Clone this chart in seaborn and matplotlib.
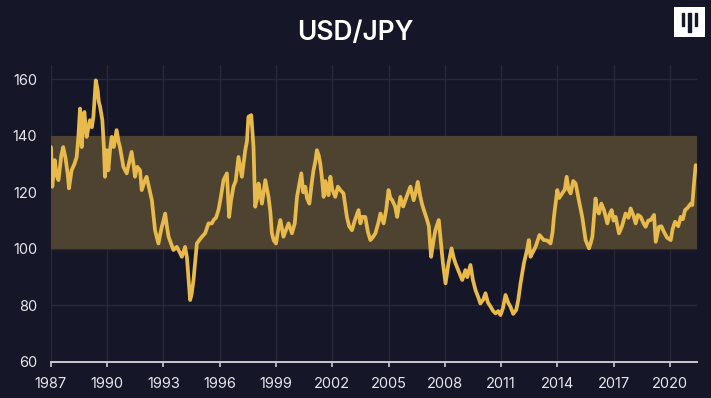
import pandas as pd
import matplotlib.pyplot as plt
import matplotlib.patches as mpatches
import seaborn as sns

# USD/JPY rate (decimal year, yen per dollar)
years = [
    1987.00, 1987.07, 1987.20, 1987.30, 1987.40, 1987.55, 1987.65, 1987.78, 1987.90, 1987.96,
    1988.10, 1988.25, 1988.37, 1988.46, 1988.55, 1988.64, 1988.72, 1988.78, 1988.90, 1989.00,
    1989.08, 1989.18, 1989.26, 1989.39, 1989.49, 1989.55, 1989.62, 1989.74, 1989.82, 1989.88,
    1989.97, 1990.06, 1990.15, 1990.24, 1990.35, 1990.50, 1990.60, 1990.68, 1990.86, 1991.04,
    1991.15, 1991.30, 1991.40, 1991.48, 1991.60, 1991.75, 1991.84, 1992.00, 1992.10, 1992.25,
    1992.38, 1992.48, 1992.55, 1992.73, 1992.82, 1992.91, 1993.00, 1993.09, 1993.18, 1993.27,
    1993.40, 1993.53, 1993.71, 1993.85, 1993.98, 1994.15, 1994.25, 1994.33, 1994.42, 1994.50,
    1994.60, 1994.70, 1994.78, 1994.90, 1995.05, 1995.22, 1995.40, 1995.58, 1995.67, 1995.80,
    1995.93, 1996.05, 1996.20, 1996.38, 1996.50, 1996.60, 1996.73, 1996.85, 1997.00, 1997.18,
    1997.36, 1997.45, 1997.53, 1997.68, 1997.80, 1997.89, 1998.00, 1998.07, 1998.15, 1998.25,
    1998.43, 1998.60, 1998.70, 1998.78, 1998.88, 1999.00, 1999.10, 1999.23, 1999.40, 1999.55,
    1999.67, 1999.85, 2000.00, 2000.12, 2000.35, 2000.45, 2000.56, 2000.65, 2000.78, 2000.90,
    2001.00, 2001.10, 2001.18, 2001.28, 2001.36, 2001.45, 2001.54, 2001.63, 2001.72, 2001.80,
    2001.90, 2002.00, 2002.16, 2002.30, 2002.43, 2002.60, 2002.70, 2002.78, 2002.90, 2003.05,
    2003.20, 2003.40, 2003.50, 2003.59, 2003.76, 2003.90, 2004.03, 2004.15, 2004.30, 2004.45,
    2004.57, 2004.74, 2004.88, 2005.00, 2005.10, 2005.20, 2005.35, 2005.46, 2005.63, 2005.78,
    2005.90, 2006.05, 2006.17, 2006.34, 2006.45, 2006.56, 2006.68, 2006.78, 2006.92, 2007.06,
    2007.15, 2007.27, 2007.40, 2007.50, 2007.68, 2007.80, 2007.90, 2008.04, 2008.20, 2008.36,
    2008.47, 2008.57, 2008.75, 2008.93, 2009.10, 2009.20, 2009.37, 2009.50, 2009.64, 2009.78,
    2009.90, 2010.05, 2010.17, 2010.30, 2010.44, 2010.58, 2010.71, 2010.85, 2010.97, 2011.10,
    2011.24, 2011.38, 2011.50, 2011.65, 2011.81, 2011.92, 2012.04, 2012.22, 2012.40, 2012.48,
    2012.57, 2012.66, 2012.84, 2013.05, 2013.28, 2013.45, 2013.64, 2013.75, 2013.82, 2014.00,
    2014.10, 2014.26, 2014.40, 2014.50, 2014.60, 2014.71, 2014.85, 2014.98, 2015.15, 2015.33,
    2015.51, 2015.69, 2015.78, 2015.87, 2016.04, 2016.12, 2016.22, 2016.35, 2016.49, 2016.67,
    2016.78, 2016.90, 2017.00, 2017.11, 2017.29, 2017.45, 2017.64, 2017.80, 2017.91, 2018.05,
    2018.18, 2018.30, 2018.45, 2018.60, 2018.71, 2018.85, 2018.98, 2019.16, 2019.25, 2019.42,
    2019.55, 2019.69, 2019.85, 2020.05, 2020.15, 2020.28, 2020.45, 2020.58, 2020.70, 2020.81,
    2020.95, 2021.12, 2021.20, 2021.29, 2021.38,
]
usd_jpy = [
    136.0, 122.0, 131.4, 126.0, 124.3, 133.0, 136.0, 132.0, 126.0, 121.4,
    127.8, 130.0, 132.5, 139.6, 149.6, 136.0, 146.0, 148.4, 139.6, 143.0,
    145.5, 143.0, 146.6, 159.6, 156.1, 152.0, 150.2, 145.5, 136.0, 125.5,
    134.9, 127.8, 135.0, 139.6, 136.0, 142.0, 138.0, 136.0, 129.0, 126.7,
    130.0, 134.3, 130.0, 125.5, 129.0, 127.8, 120.8, 124.0, 125.5, 121.0,
    117.2, 111.0, 106.6, 101.9, 105.0, 107.8, 110.0, 112.5, 108.0, 104.3,
    102.0, 99.6, 100.7, 99.0, 97.2, 100.7, 97.0, 90.1, 81.9, 84.0,
    89.0, 96.0, 101.9, 103.0, 104.3, 105.5, 109.0, 109.0, 110.2, 111.0,
    113.7, 118.0, 124.3, 126.7, 111.3, 117.0, 122.0, 124.0, 132.5, 125.5,
    134.9, 138.0, 146.7, 147.3, 136.0, 114.9, 118.0, 123.1, 120.0, 116.0,
    124.3, 118.4, 113.0, 105.5, 103.0, 101.9, 106.0, 110.2, 104.3, 107.0,
    109.0, 105.5, 109.0, 118.4, 126.7, 120.0, 122.0, 118.0, 116.0, 123.0,
    127.8, 131.0, 134.9, 133.0, 130.2, 125.0, 118.4, 124.0, 122.0, 119.0,
    125.5, 121.0, 118.4, 122.0, 120.8, 119.6, 115.0, 111.3, 108.0, 106.6,
    110.0, 113.7, 109.0, 111.3, 111.3, 106.0, 103.1, 104.0, 105.5, 109.0,
    112.5, 109.0, 114.0, 120.8, 118.0, 117.2, 115.0, 111.3, 118.4, 115.0,
    117.2, 120.0, 122.0, 117.2, 120.0, 123.7, 119.0, 116.0, 113.0, 110.2,
    108.0, 97.2, 103.0, 106.6, 110.2, 102.0, 95.0, 87.8, 95.0, 100.2,
    97.0, 94.9, 92.0, 89.0, 92.5, 90.0, 94.3, 89.0, 85.4, 83.0,
    80.7, 82.0, 84.3, 81.0, 79.6, 78.0, 77.2, 78.0, 76.6, 79.0,
    83.7, 81.0, 79.6, 77.0, 78.4, 82.0, 87.8, 94.9, 100.0, 103.1,
    97.2, 98.4, 100.7, 104.9, 103.1, 103.0, 101.9, 106.0, 111.3, 120.8,
    118.0, 119.6, 121.0, 125.5, 121.0, 119.6, 124.0, 123.1, 117.2, 111.3,
    103.1, 100.2, 102.0, 104.3, 117.8, 114.0, 112.5, 116.0, 113.7, 109.0,
    112.0, 113.7, 110.0, 111.3, 105.5, 108.0, 112.5, 111.0, 114.3, 112.0,
    109.0, 112.0, 111.3, 109.0, 107.8, 110.0, 110.2, 112.0, 102.5, 107.8,
    108.0, 106.0, 104.0, 103.1, 107.0, 109.6, 108.0, 111.3, 110.5, 113.7,
    114.5, 116.0, 115.5, 123.1, 129.6,
]
x_ticks = [1987, 1990, 1993, 1996, 1999, 2002, 2005, 2008, 2011, 2014, 2017, 2020]
y_ticks = [60, 80, 100, 120, 140, 160]
band_low, band_high = 100, 140

df = pd.DataFrame({"year": years, "rate": usd_jpy})

bg = "#151729"
grid_col = "#282a3c"
text_col = "#e6e6ea"

sns.set_style("dark")
plt.rcParams["font.family"] = ["Inter", "DejaVu Sans"]

fig = plt.figure(figsize=(7.11, 3.98), dpi=100, facecolor=bg)
ax = fig.add_axes([0.0717, 0.0905, 0.9086, 0.746])
ax.set_facecolor(bg)

ax.axhspan(band_low, band_high, color="#4d4330", zorder=1, lw=0)
sns.lineplot(data=df, x="year", y="rate", ax=ax, color="#e8b94b",
             linewidth=2.7, zorder=3)

ax.set_xlim(1987, 2021.45)
ax.set_ylim(60, 165)
ax.set_xticks(x_ticks)
ax.set_yticks(y_ticks)
ax.grid(True, color=grid_col, linewidth=1, zorder=0)
ax.set_axisbelow(True)
ax.set_xlabel("")
ax.set_ylabel("")

for side in ["top", "right", "left"]:
    ax.spines[side].set_visible(False)
ax.spines["bottom"].set_color("#c9c9cf")
ax.spines["bottom"].set_linewidth(1.4)
ax.spines["bottom"].set_zorder(4)
ax.tick_params(axis="x", colors="#c9c9cf", length=3.5, width=1.2, pad=7,
               labelcolor=text_col, labelsize=10.5, direction="out", bottom=True)
ax.tick_params(axis="y", length=0, pad=10, labelcolor=text_col, labelsize=10.5)

fig.text(0.5, 0.918, "USD/JPY", color="white", fontsize=19, fontweight="semibold",
         ha="center", va="center")

# small logo box, top right
lax = fig.add_axes([674 / 711, 1 - 37 / 398, 31 / 711, 30 / 398])
lax.set_xlim(0, 1)
lax.set_ylim(0, 1)
lax.axis("off")
lax.add_patch(mpatches.Rectangle((0, 0), 1, 1, color="white"))
for bx, top, bottom in [(0.30, 0.8, 0.37), (0.50, 0.8, 0.16), (0.70, 0.8, 0.37)]:
    lax.add_patch(mpatches.Rectangle((bx - 0.035, bottom), 0.07, top - bottom, color="#151729"))

plt.savefig("out.png", dpi=100, facecolor=bg)
